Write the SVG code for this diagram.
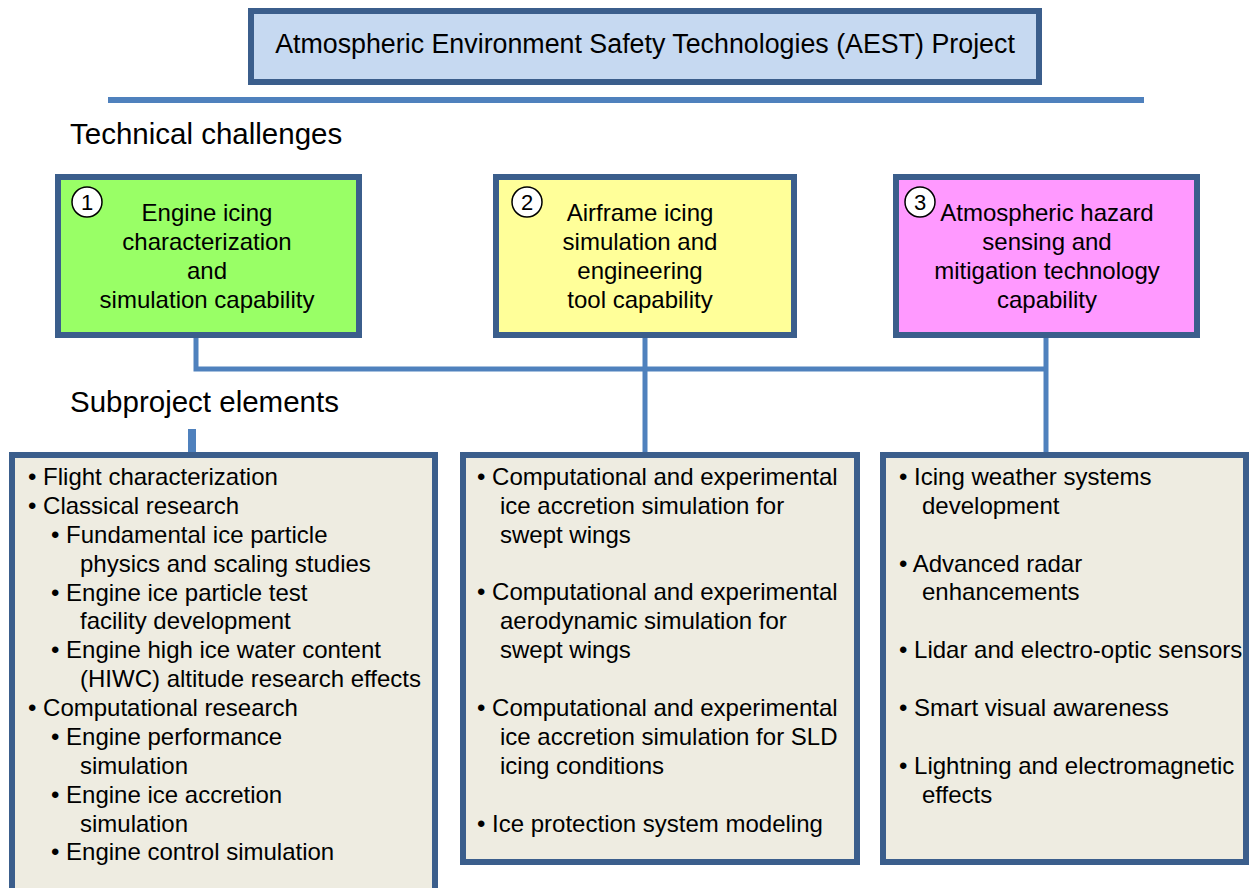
<svg xmlns="http://www.w3.org/2000/svg" width="1250" height="888" viewBox="0 0 1250 888">
<style>
text{font-family:"Liberation Sans",Arial,sans-serif;fill:#000}
.frame{stroke:#3b5e8c;stroke-width:6}
.conn{stroke:#4f81bd;stroke-width:5;fill:none}
.t{font-size:24px}
.c{font-size:24px;text-anchor:middle}
.num{font-size:22px;text-anchor:middle}
.h{font-size:29.5px}
.circ{fill:#fff;stroke:#000;stroke-width:1.5}
</style>
<rect width="1250" height="888" fill="#fff"/>
<g id="project">
<rect class="frame" x="251" y="11" width="788" height="71" fill="#c6d9f1"/>
<text x="645" y="53" style="font-size:26.8px" text-anchor="middle">Atmospheric Environment Safety Technologies (AEST) Project</text>
</g>
<g id="connectors">
<line x1="108" y1="100" x2="1144" y2="100" stroke="#4f81bd" stroke-width="6"/>
<polyline class="conn" points="196,338 196,369 1046,369"/>
<line class="conn" x1="645" y1="338" x2="645" y2="456"/>
<line class="conn" x1="1046" y1="338" x2="1046" y2="456"/>
<line x1="192" y1="429" x2="192" y2="455" stroke="#4f81bd" stroke-width="8"/>
</g>
<text class="h" x="70" y="144">Technical challenges</text>
<text class="h" x="70" y="412">Subproject elements</text>
<g id="tc1">
<rect class="frame" x="58" y="177" width="301" height="158" fill="#99ff66"/>
<circle class="circ" cx="87" cy="202" r="15"/>
<text class="num" x="87" y="210">1</text>
<text class="c" x="207" y="221">Engine icing</text>
<text class="c" x="207" y="250">characterization</text>
<text class="c" x="207" y="279">and</text>
<text class="c" x="207" y="308">simulation capability</text>
</g>
<g id="tc2">
<rect class="frame" x="496" y="177" width="298" height="158" fill="#ffff99"/>
<circle class="circ" cx="527" cy="202" r="15"/>
<text class="num" x="527" y="210">2</text>
<text class="c" x="640" y="221">Airframe icing</text>
<text class="c" x="640" y="250">simulation and</text>
<text class="c" x="640" y="279">engineering</text>
<text class="c" x="640" y="308">tool capability</text>
</g>
<g id="tc3">
<rect class="frame" x="896" y="177" width="301" height="158" fill="#ff99ff"/>
<circle class="circ" cx="920" cy="202" r="15"/>
<text class="num" x="920" y="210">3</text>
<text class="c" x="1047" y="221">Atmospheric hazard</text>
<text class="c" x="1047" y="250">sensing and</text>
<text class="c" x="1047" y="279">mitigation technology</text>
<text class="c" x="1047" y="308">capability</text>
</g>
<g id="sp1">
<rect class="frame" x="12" y="455" width="423" height="440" fill="#eeece1"/>
<g class="t">
<text x="28" y="485">• Flight characterization</text>
<text x="28" y="514">• Classical research</text>
<text x="51" y="543">• Fundamental ice particle</text>
<text x="80" y="572">physics and scaling studies</text>
<text x="51" y="601">• Engine ice particle test</text>
<text x="80" y="629">facility development</text>
<text x="51" y="658">• Engine high ice water content</text>
<text x="80" y="687">(HIWC) altitude research effects</text>
<text x="28" y="716">• Computational research</text>
<text x="51" y="745">• Engine performance</text>
<text x="80" y="774">simulation</text>
<text x="51" y="803">• Engine ice accretion</text>
<text x="80" y="832">simulation</text>
<text x="51" y="860">• Engine control simulation</text>
</g>
</g>
<g id="sp2">
<rect class="frame" x="463" y="455" width="394" height="407" fill="#eeece1"/>
<g class="t">
<text x="477" y="485">• Computational and experimental</text>
<text x="500" y="514">ice accretion simulation for</text>
<text x="500" y="543">swept wings</text>
<text x="477" y="600">• Computational and experimental</text>
<text x="500" y="629">aerodynamic simulation for</text>
<text x="500" y="658">swept wings</text>
<text x="477" y="716">• Computational and experimental</text>
<text x="500" y="745">ice accretion simulation for SLD</text>
<text x="500" y="774">icing conditions</text>
<text x="477" y="832">• Ice protection system modeling</text>
</g>
</g>
<g id="sp3">
<rect class="frame" x="883" y="455" width="363" height="407" fill="#eeece1"/>
<g class="t">
<text x="899" y="485">• Icing weather systems</text>
<text x="922" y="514">development</text>
<text x="899" y="572">• Advanced radar</text>
<text x="922" y="600">enhancements</text>
<text x="899" y="658">• Lidar and electro-optic sensors</text>
<text x="899" y="716">• Smart visual awareness</text>
<text x="899" y="774">• Lightning and electromagnetic</text>
<text x="922" y="803">effects</text>
</g>
</g>
</svg>
